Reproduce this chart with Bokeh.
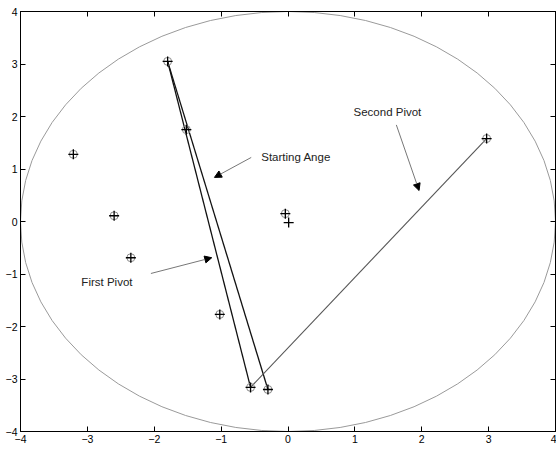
from bokeh.plotting import figure
from bokeh.models import LinearAxis, Range1d, FixedTicker, Arrow, NormalHead, ColumnDataSource
from bokeh.core.properties import value
from bokeh.embed import file_html
from bokeh.resources import INLINE

# ---- data ----
pt_x = [-1.80, -1.52, -3.21, -2.60, -2.35, -1.02, -0.56, -0.30, -0.04, 2.97]
pt_y = [3.05, 1.75, 1.28, 0.11, -0.69, -1.77, -3.16, -3.20, 0.15, 1.58]
plain_x = [0.01]
plain_y = [-0.02]
seg_from = [0, 0, 6]
seg_to = [6, 7, 9]
ring_radius = 4.0
ticks = [-4, -3, -2, -1, 0, 1, 2, 3, 4]

label_text = ["Second Pivot", "Starting Ange", "First Pivot"]
label_x = [0.98, -0.40, -3.09]
label_y = [2.08, 1.22, -1.15]
arrow_x0 = [1.62, -0.55, -2.05]
arrow_y0 = [1.84, 1.22, -0.99]
arrow_x1 = [1.96, -1.10, -1.14]
arrow_y1 = [0.59, 0.84, -0.69]

FONT = "Liberation Sans"

p = figure(width=556, height=451, output_backend="svg", toolbar_location=None,
           x_range=Range1d(-4, 4), y_range=Range1d(-4, 4),
           min_border_left=20, min_border_right=1, min_border_top=11, min_border_bottom=20,
           background_fill_color="white", border_fill_color="white")
p.xgrid.visible = False
p.ygrid.visible = False
p.outline_line_color = "black"
p.outline_line_width = 1

def style_axis(ax, labels=True):
    ax.ticker = FixedTicker(ticks=ticks)
    ax.minor_tick_line_color = None
    ax.major_tick_in = 5
    ax.major_tick_out = 0
    ax.major_tick_line_color = "black"
    ax.axis_line_color = "black"
    ax.major_label_text_font = FONT
    ax.major_label_text_color = "black"
    ax.major_label_text_font_size = "10.5px"
    if labels:
        ax.major_label_standoff = 3
    else:
        ax.major_label_overrides = {t: "" for t in ticks}
        ax.major_label_standoff = 0

style_axis(p.xaxis[0])
style_axis(p.yaxis[0])
top_ax = LinearAxis()
right_ax = LinearAxis()
style_axis(top_ax, labels=False)
style_axis(right_ax, labels=False)
p.add_layout(top_ax, "above")
p.add_layout(right_ax, "right")

# ring
p.ellipse(x=[0], y=[0], width=[2 * ring_radius], height=[2 * ring_radius],
          fill_color=None, line_color="#9a9a9a", line_width=1)

# pivot lines
p.segment(x0=[pt_x[i] for i in seg_from[:2]], y0=[pt_y[i] for i in seg_from[:2]],
          x1=[pt_x[i] for i in seg_to[:2]], y1=[pt_y[i] for i in seg_to[:2]],
          line_color="#111111", line_width=1.3)
p.segment(x0=[pt_x[seg_from[2]]], y0=[pt_y[seg_from[2]]],
          x1=[pt_x[seg_to[2]]], y1=[pt_y[seg_to[2]]],
          line_color="#555555", line_width=1.1)

# points
p.scatter(pt_x, pt_y, marker="circle", size=8, fill_color=None, line_color="#8a8a8a", line_width=1)
p.scatter(pt_x, pt_y, marker="cross", size=10, line_color="black", line_width=1.3)
p.scatter(plain_x, plain_y, marker="cross", size=10, line_color="black", line_width=1.3)

# annotations
src = ColumnDataSource(dict(x=label_x, y=label_y, t=label_text))
p.text(x="x", y="y", text="t", source=src, text_font=value(FONT), text_font_size="11.5px",
       text_color="#222222", text_align="left", text_baseline="middle")
for i in range(len(arrow_x0)):
    p.add_layout(Arrow(x_start=arrow_x0[i], y_start=arrow_y0[i], x_end=arrow_x1[i], y_end=arrow_y1[i],
                       line_color="#777777", line_width=1,
                       end=NormalHead(size=7, fill_color="black", line_color="black", line_width=1)))

open("out.html", "w").write(file_html(p, INLINE))
